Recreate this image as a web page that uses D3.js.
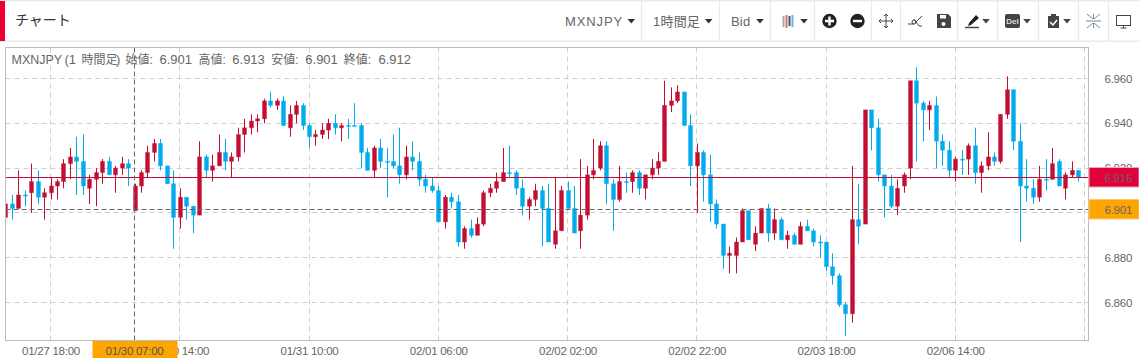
<!DOCTYPE html>
<html><head><meta charset="utf-8">
<script src="https://cdnjs.cloudflare.com/ajax/libs/d3/7.8.5/d3.min.js"></script>
<style>html,body{margin:0;padding:0;background:#fff;overflow:hidden}svg{display:block}
text{font-family:"Liberation Sans",Arial,"Noto Sans CJK JP",sans-serif}</style>
</head><body><div id="chart"></div>
<script>
const opens=[6.898,6.904,6.902,6.908,6.909,6.914,6.907,6.909,6.912,6.914,
6.922,6.925,6.923,6.911,6.915,6.918,6.923,6.917,6.920,6.922,
6.901,6.912,6.918,6.927,6.931,6.921,6.913,6.898,6.907,6.903,
6.899,6.925,6.919,6.921,6.927,6.923,6.925,6.935,6.938,6.941,
6.942,6.950,6.948,6.950,6.938,6.944,6.948,6.939,6.934,6.935,
6.937,6.940,6.938,6.939,6.939,6.939,6.927,6.919,6.929,6.923,
6.923,6.921,6.917,6.925,6.923,6.915,6.912,6.910,6.896,6.907,
6.905,6.887,6.893,6.890,6.895,6.909,6.911,6.914,6.918,6.918,
6.911,6.903,6.906,6.910,6.902,6.886,6.892,6.910,6.902,6.892,
6.899,6.917,6.920,6.930,6.913,6.906,6.914,6.914,6.918,6.911,
6.917,6.920,6.923,6.948,6.950,6.954,6.939,6.921,6.927,6.917,
6.904,6.895,6.881,6.881,6.887,6.901,6.886,6.891,6.902,6.891,
6.897,6.888,6.890,6.886,6.894,6.892,6.887,6.887,6.876,6.872,
6.859,6.855,6.897,6.895,6.946,6.938,6.917,6.912,6.903,6.912,
6.920,6.959,6.949,6.946,6.948,6.932,6.928,6.919,6.924,6.924,
6.930,6.918,6.921,6.925,6.923,6.944,6.955,6.932,6.912,6.911,
6.907,6.915,6.915,6.923,6.911,6.917,6.919];
const closes=[6.904,6.902,6.908,6.908,6.914,6.907,6.909,6.912,6.914,6.922,
6.925,6.923,6.912,6.915,6.918,6.923,6.917,6.920,6.922,6.920,
6.912,6.918,6.927,6.931,6.921,6.913,6.898,6.907,6.903,6.899,
6.925,6.919,6.921,6.927,6.923,6.925,6.935,6.938,6.941,6.942,
6.950,6.948,6.950,6.939,6.944,6.948,6.939,6.934,6.935,6.937,
6.940,6.938,6.939,6.939,6.939,6.927,6.919,6.929,6.923,6.923,
6.921,6.917,6.925,6.923,6.915,6.912,6.910,6.896,6.907,6.905,
6.887,6.893,6.890,6.895,6.909,6.911,6.914,6.918,6.918,6.911,
6.903,6.906,6.910,6.902,6.887,6.892,6.910,6.902,6.891,6.899,
6.917,6.919,6.930,6.913,6.906,6.914,6.914,6.918,6.911,6.917,
6.920,6.923,6.948,6.950,6.954,6.939,6.921,6.927,6.917,6.904,
6.895,6.881,6.882,6.887,6.901,6.888,6.891,6.902,6.891,6.897,
6.888,6.890,6.886,6.894,6.892,6.887,6.887,6.876,6.872,6.859,
6.855,6.897,6.894,6.946,6.938,6.917,6.912,6.903,6.911,6.917,
6.959,6.949,6.946,6.948,6.932,6.928,6.919,6.924,6.924,6.930,
6.918,6.921,6.925,6.923,6.944,6.955,6.932,6.912,6.911,6.907,
6.915,6.915,6.922,6.912,6.917,6.919,6.916];
const highs=[6.904,6.908,6.919,6.910,6.922,6.919,6.911,6.916,6.915,6.924,
6.929,6.934,6.935,6.917,6.920,6.924,6.925,6.921,6.925,6.924,
6.913,6.919,6.930,6.933,6.933,6.921,6.919,6.911,6.907,6.903,
6.932,6.926,6.926,6.935,6.933,6.927,6.938,6.942,6.944,6.944,
6.951,6.954,6.951,6.952,6.948,6.950,6.949,6.940,6.937,6.940,
6.942,6.944,6.940,6.942,6.949,6.940,6.929,6.930,6.933,6.929,
6.935,6.938,6.930,6.932,6.927,6.917,6.916,6.912,6.908,6.909,
6.908,6.894,6.897,6.898,6.910,6.913,6.918,6.929,6.930,6.919,
6.915,6.907,6.913,6.912,6.913,6.916,6.912,6.914,6.912,6.924,
6.921,6.933,6.932,6.932,6.915,6.921,6.918,6.919,6.919,6.917,
6.924,6.927,6.959,6.956,6.957,6.954,6.944,6.931,6.928,6.926,
6.906,6.895,6.885,6.889,6.902,6.901,6.894,6.902,6.904,6.902,
6.898,6.892,6.891,6.896,6.897,6.893,6.890,6.887,6.882,6.873,
6.860,6.921,6.913,6.946,6.946,6.942,6.917,6.917,6.915,6.918,
6.959,6.965,6.950,6.950,6.952,6.935,6.932,6.925,6.928,6.931,
6.938,6.923,6.936,6.927,6.944,6.961,6.955,6.940,6.924,6.915,
6.921,6.924,6.929,6.924,6.918,6.923,6.919];
const lows=[6.898,6.897,6.902,6.903,6.900,6.904,6.897,6.906,6.906,6.911,
6.915,6.908,6.908,6.904,6.903,6.913,6.917,6.909,6.917,6.912,
6.901,6.909,6.916,6.923,6.919,6.913,6.884,6.893,6.897,6.891,
6.899,6.916,6.914,6.921,6.919,6.916,6.923,6.927,6.935,6.936,
6.940,6.947,6.946,6.939,6.934,6.940,6.937,6.929,6.930,6.933,
6.933,6.935,6.932,6.933,6.939,6.920,6.919,6.916,6.920,6.907,
6.920,6.913,6.915,6.919,6.912,6.909,6.909,6.896,6.893,6.902,
6.885,6.884,6.889,6.890,6.894,6.907,6.909,6.914,6.916,6.908,
6.899,6.897,6.903,6.885,6.887,6.884,6.892,6.902,6.891,6.884,
6.897,6.915,6.919,6.904,6.892,6.905,6.909,6.909,6.908,6.906,
6.915,6.917,6.923,6.945,6.949,6.939,6.912,6.900,6.905,6.896,
6.893,6.875,6.873,6.873,6.887,6.888,6.883,6.891,6.887,6.888,
6.888,6.884,6.886,6.886,6.892,6.885,6.880,6.874,6.868,6.858,
6.845,6.851,6.886,6.895,6.928,6.914,6.898,6.902,6.899,6.909,
6.915,6.923,6.932,6.937,6.920,6.921,6.916,6.914,6.917,6.917,
6.913,6.909,6.919,6.921,6.922,6.942,6.928,6.887,6.905,6.904,
6.905,6.910,6.915,6.912,6.906,6.916,6.914];
const xTickIndex=[7,27,47,67,87,107,127,147,167];
const xTickLabels=["01/27 18:00","01/30 14:00","01/31 10:00","02/01 06:00","02/02 02:00","02/02 22:00","02/03 18:00","02/06 14:00",""];
const yTicks=[6.86,6.88,6.90,6.92,6.94,6.96];
const lastPrice=6.916, crossPrice=6.901, crossIndex=20, crossLabel="01/30 07:00";
const legendParts=["MXNJPY ","(1 ","時間足",") ","始値: ","6.901 ","高値: ","6.913 ","安値: ","6.901 ","終値: ","6.912"];
const legendX=[11.5,64.5,81.5,116,125.5,159.5,198.5,232.3,271.2,305.3,343.8,378.5];
const panelTitle="チャート";
const menuLabels=[["MXNJPY",565],["1時間足",653],["Bid",731]];
const separators=[641.5,719.5,770.5,814.5,871.5,900.5,957.5,997.5,1038.5,1078.5,1108.5];

const W=1139,H=358,L=5.5,T=47.5,R=1088.5,B=340.5;
const RED="#c30e33",BLUE="#01acee",GRID="#cfcfcf",TXT="#666";
const x=d3.scaleLinear().domain([7,167]).range([50.5,1084.5]);
const y=d3.scaleLinear().domain([6.86,6.96]).range([302.5,78.5]);
const snap=v=>Math.floor(v)+.5;
const svg=d3.select("#chart").append("svg").attr("width",W).attr("height",H);
svg.append("rect").attr("width",W).attr("height",H).attr("fill","#fff");
// header
svg.append("rect").attr("width",W).attr("height",1.5).attr("fill","#e4eaf1");
svg.append("rect").attr("y",40.5).attr("width",W).attr("height",1.5).attr("fill","#e4eaf1");
svg.append("rect").attr("y",1).attr("width",5).attr("height",40).attr("fill","#ee0033");
svg.append("text").attr("x",15).attr("y",25).attr("font-size",14).attr("fill","#333").text(panelTitle);
svg.selectAll(".sep").data(separators).join("line").attr("x1",d=>d).attr("x2",d=>d).attr("y1",1).attr("y2",41).attr("stroke","#e4eaf1").attr("stroke-width",1.2);
svg.selectAll(".menu").data(menuLabels).join("text").attr("x",d=>d[1]).attr("y",26).attr("font-size",13).attr("fill","#666")
  .attr("letter-spacing",(d,i)=>i===0?0.9:0.2).text(d=>d[0]);
const caret=(cx,col="#333",w=3.8)=>svg.append("path").attr("d",`M${cx-w},19 h${2*w} l-${w},4.5 z`).attr("fill",col);
[631.3,708.7,760,804].forEach(c=>caret(c));
[986,1027,1067].forEach(c=>caret(c,"#444"));
// candle type icon
[[783.5,16,27,"#aaa"],[786.5,15,28,"#c77"],[789.5,16,26,"#456"],[792.5,15,27,"#6bd"]].forEach(a=>{
 svg.append("line").attr("x1",a[0]).attr("x2",a[0]).attr("y1",a[1]).attr("y2",a[2]).attr("stroke",a[3]).attr("stroke-width",2);
});
// plus / minus
svg.append("circle").attr("cx",829.5).attr("cy",21).attr("r",7.2).attr("fill","#222");
svg.append("path").attr("d","M825,21h9M829.5,16.5v9").attr("stroke","#fff").attr("stroke-width",2.4);
svg.append("circle").attr("cx",857.5).attr("cy",21).attr("r",7.2).attr("fill","#222");
svg.append("path").attr("d","M853,21h9").attr("stroke","#fff").attr("stroke-width",2.4);
// move
svg.append("path").attr("d","M886,14v14M879,21h14M884,16l2,-2l2,2M884,26l2,2l2,-2M881,19l-2,2l2,2M891,19l2,2l-2,2").attr("stroke","#445").attr("fill","none");
// line tool
svg.append("path").attr("d","M908,24h6M915,23l7,-7M914,19l5,7h3").attr("stroke","#445").attr("fill","none");
svg.append("circle").attr("cx",914).attr("cy",22).attr("r",2).attr("fill","none").attr("stroke","#445");
// save
svg.append("path").attr("d","M937,14h11l3,3v11h-14z").attr("fill","#444");
svg.append("rect").attr("x",940).attr("y",15).attr("width",6).attr("height",3.5).attr("fill","#fff");
svg.append("circle").attr("cx",943.5).attr("cy",24).attr("r",2).attr("fill","#fff");
// pen
svg.append("path").attr("d","M969,23l7,-8l3,3l-8,7l-3,1z").attr("fill","#222");
svg.append("line").attr("x1",965).attr("x2",979).attr("y1",27.5).attr("y2",27.5).attr("stroke","#444").attr("stroke-width",1.5);
// del
svg.append("rect").attr("x",1005).attr("y",14).attr("width",15).attr("height",14).attr("rx",2).attr("fill","#444");
svg.append("text").attr("x",1012.5).attr("y",24).attr("font-size",8).attr("font-weight","bold").attr("text-anchor","middle").attr("fill","#ddd").text("Del");
// clipboard
svg.append("rect").attr("x",1048).attr("y",16).attr("width",11).attr("height",12).attr("fill","#444");
svg.append("rect").attr("x",1051).attr("y",14).attr("width",5).attr("height",3).attr("fill","#444");
svg.append("path").attr("d","M1050,22l3,3l4,-5").attr("stroke","#fff").attr("stroke-width",1.5).attr("fill","none");
// collapse
svg.append("path").attr("d","M1087,14l6,5M1100,14l-6,5M1087,28l6,-5M1100,28l-6,-5M1086,21h15M1093.5,14v5M1093.5,23v5").attr("stroke","#7a8a96").attr("fill","none");
// monitor
svg.append("rect").attr("x",1116.5).attr("y",15.5).attr("width",14).attr("height",10).attr("fill","#fff").attr("stroke","#445");
svg.append("path").attr("d","M1120.5,28h6M1123.5,26v2").attr("stroke","#445");

// frame + grid
const chart=svg.append("g");
chart.selectAll(".hg").data(yTicks).join("line").attr("x1",L).attr("x2",R).attr("y1",d=>snap(y(d))).attr("y2",d=>snap(y(d)))
 .attr("stroke",GRID).attr("stroke-dasharray","5,4");
chart.selectAll(".vg").data(xTickIndex).join("line").attr("x1",d=>snap(x(d))).attr("x2",d=>snap(x(d))).attr("y1",T).attr("y2",B)
 .attr("stroke",GRID).attr("stroke-dasharray","5,4");
svg.append("defs").append("clipPath").attr("id","plot").append("rect").attr("x",L).attr("y",T).attr("width",R-L).attr("height",B-T);
const g=chart.append("g").attr("clip-path","url(#plot)");
const idx=d3.range(opens.length);
const col=i=>closes[i]>opens[i]?RED:BLUE;
g.selectAll(".wick").data(idx).join("line").attr("x1",i=>Math.round(x(i))+.5).attr("x2",i=>Math.round(x(i))+.5)
 .attr("y1",i=>y(highs[i])).attr("y2",i=>y(lows[i])).attr("stroke",col);
g.selectAll(".body").data(idx).join("rect").attr("x",i=>Math.round(x(i))-1.5).attr("width",4)
 .attr("y",i=>y(Math.max(opens[i],closes[i]))).attr("height",i=>Math.max(1,Math.abs(y(opens[i])-y(closes[i]))))
 .attr("fill",col).attr("stroke",col).attr("stroke-opacity",.35);
// price lines
g.append("line").attr("x1",L).attr("x2",R).attr("y1",snap(y(lastPrice))).attr("y2",snap(y(lastPrice))).attr("stroke","#c30e33");
g.append("line").attr("x1",L).attr("x2",R).attr("y1",snap(y(crossPrice))-1).attr("y2",snap(y(crossPrice))-1).attr("stroke","#666").attr("stroke-dasharray","5,3");
g.append("line").attr("x1",snap(x(crossIndex))).attr("x2",snap(x(crossIndex))).attr("y1",T).attr("y2",B).attr("stroke","#666").attr("stroke-dasharray","5,3");
chart.append("rect").attr("x",L).attr("y",T).attr("width",R-L).attr("height",B-T).attr("fill","none").attr("stroke","#bdbdbd");
// axes
const yAxis=d3.axisRight(y).tickValues(yTicks).tickFormat(d3.format(".3f")).tickSize(0).tickPadding(0);
const yG=svg.append("g").attr("transform",`translate(1104.5,0)`).call(yAxis);
yG.select(".domain").remove();
yG.selectAll("text").attr("font-size",11.5).attr("letter-spacing",-0.25).attr("fill",TXT).attr("style","font-family:'Liberation Sans'");
const xAxis=d3.axisBottom(x).tickValues(xTickIndex).tickFormat((d,i)=>xTickLabels[i]).tickSize(0).tickPadding(0);
const xG=svg.append("g").attr("transform",`translate(0,347)`).call(xAxis);
xG.select(".domain").remove();
xG.selectAll("text").attr("font-size",11.5).attr("letter-spacing",-0.25).attr("fill",TXT).attr("style","font-family:'Liberation Sans'");
// legend
svg.append("text").attr("y",64).attr("fill",TXT).selectAll("tspan").data(legendParts).join("tspan")
  .attr("x",(d,i)=>legendX[i]).attr("font-size",(d,i)=>i===0?12.5:(/[^\x00-\x7f]/.test(d)?12:13)).text(d=>d);
// price tags
const tag=(v,col,stroke,yTop,h)=>{
 svg.append("rect").attr("x",1089).attr("y",yTop).attr("width",50).attr("height",h).attr("fill",col).attr("stroke",stroke);
 svg.append("text").attr("x",1104.5).attr("y",yTop+14).attr("font-size",11.5).attr("letter-spacing",-0.25).attr("fill","#666").text(d3.format(".3f")(v));
};
tag(lastPrice,"#e4003a","#e9a9b8",167.5,19.5);
tag(crossPrice,"#ffa500","#f7c97a",199.5,19.5);
svg.append("rect").attr("x",92.5).attr("y",341).attr("width",85).attr("height",17).attr("fill","#ffa500");
svg.append("text").attr("x",x(crossIndex)).attr("y",355).attr("text-anchor","middle").attr("font-size",11.5).attr("letter-spacing",-0.25).attr("fill","#555").text(crossLabel);
</script></body></html>
